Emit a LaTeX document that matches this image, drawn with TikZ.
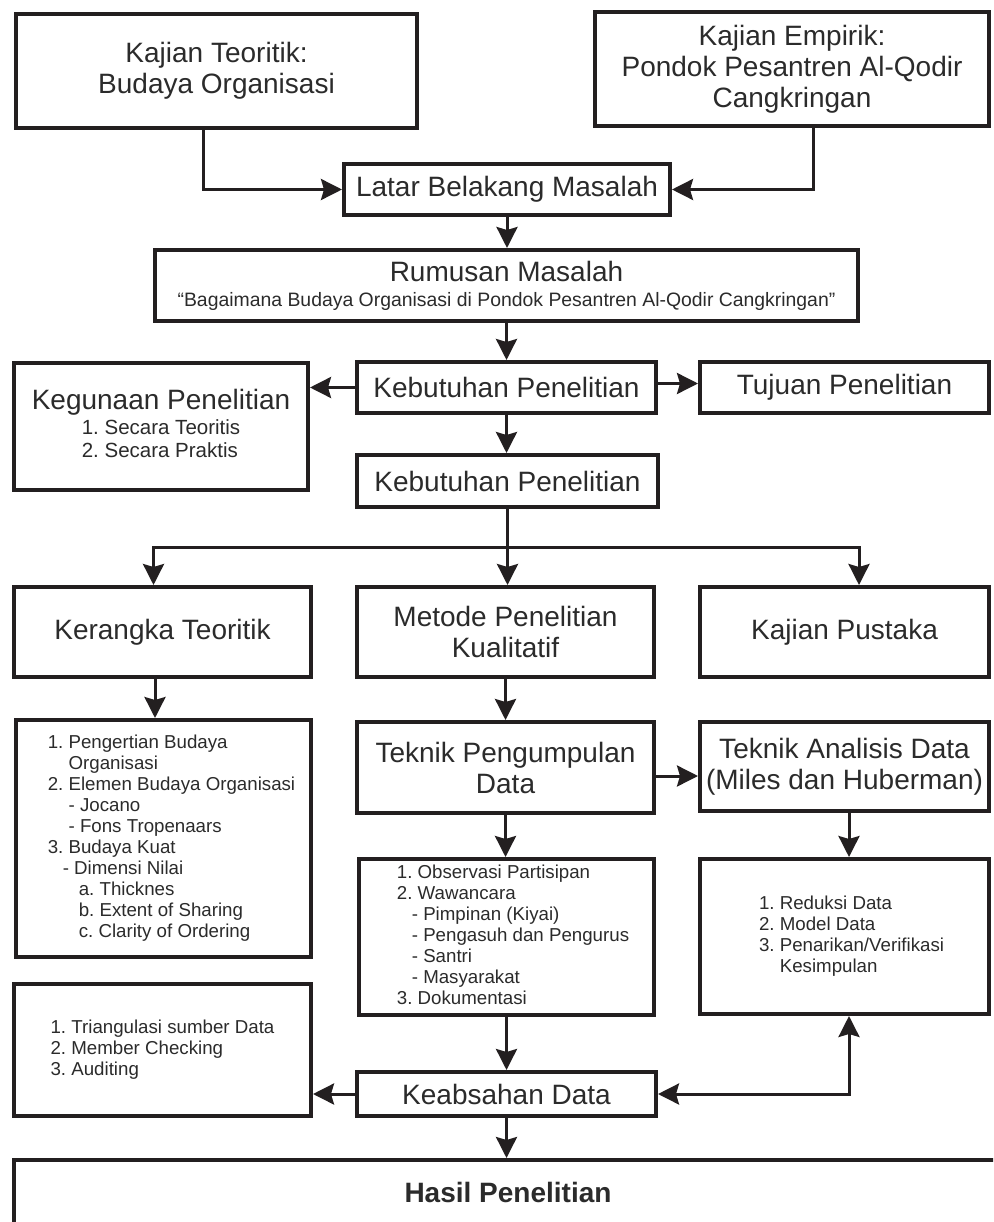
\documentclass[tikz,border=0pt]{standalone}
\usepackage{fontspec}
\setmainfont{Liberation Sans}
\usetikzlibrary{arrows.meta}
\definecolor{ink}{HTML}{231F20}
\definecolor{txt}{HTML}{2B2B2B}
\frenchspacing
\newcommand{\bigtxt}{\fontsize{28}{31}\selectfont}
\newcommand{\quotetxt}{\fontsize{19.4}{22}\selectfont}
\newcommand{\subtxt}{\fontsize{20.5}{23}\selectfont}
\newcommand{\listtxt}{\fontsize{18.7}{21}\selectfont}

\begin{document}
\begin{tikzpicture}[x=1pt, y=-1pt,
  box/.style={draw=ink, line width=4pt, fill=white, text=txt, align=center, inner sep=0pt, font=\bigtxt},
  listbox/.style={draw=ink, line width=4pt, fill=white, text=txt, inner sep=0pt, font=\listtxt},
  arr/.style={draw=ink, line width=3pt, -{Stealth[length=21pt,width=21pt,inset=3pt]}},
  arrboth/.style={draw=ink, line width=3pt, {Stealth[length=21pt,width=21pt,inset=3pt]}-{Stealth[length=21pt,width=21pt,inset=3pt]}}
]
\useasboundingbox (0,0) rectangle (993,1222);
\clip (0,0) rectangle (993,1222);

\node[box, minimum width=401pt, minimum height=114pt] (kt) at (216.5,71) {Kajian Teoritik:\\Budaya Organisasi};
\node[box, minimum width=394pt, minimum height=114pt] (ke) at (792,69) {Kajian Empirik:\\Pondok Pesantren Al-Qodir\\Cangkringan};
\node[box, minimum width=326pt, minimum height=51pt] (lb) at (507,189.5) {Latar Belakang Masalah};
\node[box, minimum width=703pt, minimum height=71pt] (rm) at (506.5,285.5) {Rumusan Masalah\\[-6pt]{\quotetxt “Bagaimana Budaya Organisasi di Pondok Pesantren Al-Qodir Cangkringan”}};

\node[box, minimum width=299pt, minimum height=51pt] (kb1) at (506.5,387.5) {Kebutuhan Penelitian};
\node[box, minimum width=294pt, minimum height=127pt] (kg) at (161,426.5) {Kegunaan Penelitian\\[-6pt]{\subtxt\begin{tabular}[t]{@{}l@{}}1. Secara Teoritis\\2. Secara Praktis\end{tabular}}};
\node[box, minimum width=289pt, minimum height=51pt] (tj) at (844.5,387.5) {Tujuan Penelitian};
\node[box, minimum width=301pt, minimum height=52pt] (kb2) at (507.5,481) {Kebutuhan Penelitian};

\node[box, minimum width=297pt, minimum height=90pt] (kr) at (162.5,632) {Kerangka Teoritik};
\node[box, minimum width=297pt, minimum height=90pt] (mt) at (505.5,632) {Metode Penelitian\\Kualitatif};
\node[box, minimum width=289pt, minimum height=90pt] (kp) at (844.5,632) {Kajian Pustaka};

\node[listbox, minimum width=295pt, minimum height=237pt] (l1) at (163.5,838.5) {\hspace*{16pt}\begin{tabular}{@{}l@{}}
1. Pengertian Budaya\\
\hspace*{20.8pt}Organisasi\\
2. Elemen Budaya Organisasi\\
\hspace*{20.8pt}- Jocano\\
\hspace*{20.8pt}- Fons Tropenaars\\
3. Budaya Kuat\\
\hspace*{15pt}- Dimensi Nilai\\
\hspace*{31pt}a. Thicknes\\
\hspace*{31pt}b. Extent of Sharing\\
\hspace*{31pt}c. Clarity of Ordering
\end{tabular}};
\node[box, minimum width=297pt, minimum height=91pt] (tp) at (505.5,767.5) {Teknik Pengumpulan\\Data};
\node[box, minimum width=289pt, minimum height=89pt] (ta) at (844.5,766.5) {Teknik Analisis Data\\(Miles dan Huberman)};

\node[listbox, minimum width=295pt, minimum height=156pt] (l2) at (506.5,937) {\hspace*{13pt}\begin{tabular}{@{}l@{}}
1. Observasi Partisipan\\
2. Wawancara\\
\hspace*{15pt}- Pimpinan (Kiyai)\\
\hspace*{15pt}- Pengasuh dan Pengurus\\
\hspace*{15pt}- Santri\\
\hspace*{15pt}- Masyarakat\\
3. Dokumentasi
\end{tabular}};
\node[listbox, minimum width=289pt, minimum height=155pt] (l3) at (844.5,936.5) {\hspace*{14pt}\begin{tabular}{@{}l@{}}
1. Reduksi Data\\
2. Model Data\\
3. Penarikan/Verifikasi\\
\hspace*{20.8pt}Kesimpulan
\end{tabular}};
\node[listbox, minimum width=297pt, minimum height=132pt] (l4) at (162.5,1050) {\begin{tabular}{@{}l@{}}
1. Triangulasi sumber Data\\
2. Member Checking\\
3. Auditing
\end{tabular}};
\node[box, minimum width=299pt, minimum height=44pt] (ks) at (506.5,1094) {Keabsahan Data};
\node[box, minimum width=988pt, minimum height=64pt] (hs) at (508,1192) {\textbf{Hasil Penelitian}};

\draw[arr] ([xshift=-13.5pt]kt.south) |- (lb.west);
\draw[arr] ([xshift=21pt]ke.south) |- (lb.east);
\draw[arr] (lb.south) -- (lb.south |- rm.north);
\draw[arr] (rm.south) -- (rm.south |- kb1.north);
\draw[arr] (kb1.west) -- (kb1.west -| kg.east);
\draw[arr] ([yshift=4pt]kb1.east) -- ([yshift=4pt]kb1.east -| tj.west);
\draw[arr] (kb1.south) -- (kb1.south |- kb2.north);

\coordinate (split) at ([yshift=-38pt]kb2.south);
\draw[draw=ink, line width=3pt] (kb2.south) -- (split);
\draw[arr] (split) -| ([xshift=-9pt]kr.north);
\draw[arr] (split) -- (split |- mt.north);
\draw[arr] (split) -| ([xshift=14.5pt]kp.north);

\draw[arr] ([xshift=-7.5pt]kr.south) -- ([xshift=-7.5pt]kr.south |- l1.north);
\draw[arr] (mt.south) -- (mt.south |- tp.north);
\draw[arr] ([yshift=-8.5pt]tp.east) -- ([yshift=-8.5pt]tp.east -| ta.west);
\draw[arr] ([xshift=4.5pt]ta.south) -- ([xshift=4.5pt]ta.south |- l3.north);
\draw[arr] (tp.south) -- (tp.south |- l2.north);
\draw[arr] (l2.south) -- (l2.south |- ks.north);
\draw[arr] (ks.west) -- (ks.west -| l4.east);
\draw[arrboth] (ks.east) -| ([xshift=4.5pt]l3.south);
\draw[arr] (ks.south) -- (ks.south |- hs.north);
\end{tikzpicture}
\end{document}
